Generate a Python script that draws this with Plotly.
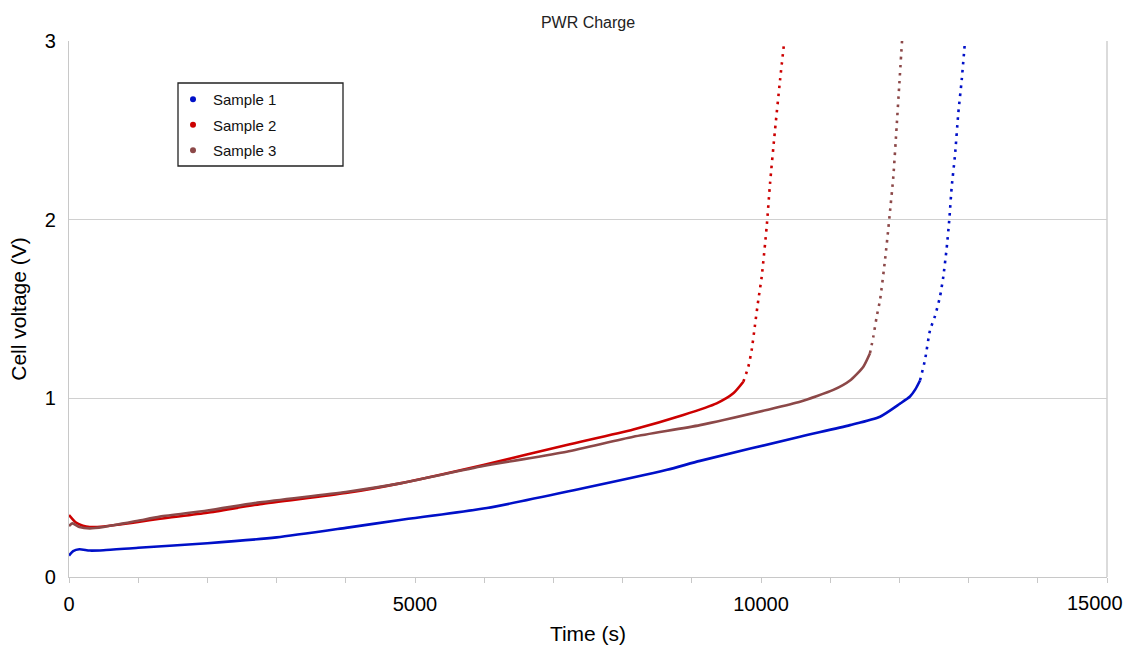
import plotly.graph_objects as go

# ---------------- data ----------------
s1_t = [0, 60, 150, 300, 500, 1000, 2000, 3000, 4000, 4783, 6040, 7312, 8642, 9118,
        10563, 11286, 11720, 12009, 12153, 12230, 12298, 12370, 12442, 12514, 12587,
        12634, 12683, 12721, 12755, 12803, 12852, 12900, 12948]
s1_v = [0.12, 0.145, 0.155, 0.148, 0.150, 0.164, 0.189, 0.222, 0.275, 0.319, 0.386, 0.487, 0.600, 0.650,
        0.785, 0.850, 0.897, 0.970, 1.010, 1.050, 1.100, 1.215, 1.380, 1.460, 1.570,
        1.680, 1.840, 2.000, 2.180, 2.360, 2.600, 2.780, 3.000]
s1_split = 20

s2_t = [0, 100, 200, 300, 500, 1000, 1315, 2000, 2760, 4000, 4783, 5987, 7192, 8155,
        8877, 9359, 9600, 9745, 9817, 9865, 9913, 9961, 10010, 10082, 10130, 10202,
        10275, 10337]
s2_v = [0.347, 0.305, 0.287, 0.280, 0.283, 0.308, 0.326, 0.360, 0.408, 0.470, 0.524, 0.627, 0.739, 0.826,
        0.907, 0.972, 1.028, 1.093, 1.177, 1.270, 1.410, 1.550, 1.680, 1.960, 2.200, 2.500,
        2.780, 3.000]
s2_split = 17

s3_t = [0, 50, 150, 300, 500, 1000, 1315, 2000, 2760, 4000, 4783, 5987, 7192, 8155,
        9118, 10082, 10564, 11045, 11286, 11479, 11575, 11623, 11672, 11720, 11792,
        11840, 11864, 11912, 11960, 11999, 12038]
s3_v = [0.285, 0.300, 0.280, 0.272, 0.280, 0.315, 0.338, 0.372, 0.418, 0.476, 0.524, 0.621, 0.701, 0.785,
        0.850, 0.935, 0.981, 1.047, 1.100, 1.177, 1.252, 1.345, 1.457, 1.550, 1.774,
        1.950, 2.045, 2.240, 2.520, 2.760, 3.000]
s3_split = 20

names = ["Sample 1", "Sample 2", "Sample 3"]
colors = ["#0010C8", "#CC0000", "#8C4848"]

x_ticks = [0, 5000, 10000, 15000]
x_tick_labels = ["0", "5000", "10000", "15000"]
y_ticks = [0, 1, 2, 3]
y_tick_labels = ["0", "1", "2", "3"]

FONT = "Arial, Liberation Sans, sans-serif"

W, H = 1128, 645
ML, MR, MT, MB = 69, 21, 41, 68
PW, PH = W - ML - MR, H - MT - MB

fig = go.Figure()
series = [(s1_t, s1_v, s1_split), (s2_t, s2_v, s2_split), (s3_t, s3_v, s3_split)]
for (t, v, k), name, col in zip(series, names, colors):
    fig.add_trace(go.Scatter(x=t[:k + 1], y=v[:k + 1], mode="lines",
                             line=dict(color=col, width=2.6, shape="spline", smoothing=0.6),
                             showlegend=False, hoverinfo="skip"))
    fig.add_trace(go.Scatter(x=t[k:], y=v[k:], mode="lines",
                             line=dict(color=col, width=2.6, dash="2.6px,5.4px",
                                       shape="spline", smoothing=0.6),
                             showlegend=False, hoverinfo="skip"))
    fig.add_trace(go.Scatter(x=[None], y=[None], mode="markers", name=name,
                             legendgroup=name, marker=dict(color=col, size=6)))

# legend box geometry (reference pixels relative to the plot area)
box_l, box_r, box_t, box_b = 178 - 69, 343 - 69, 83 - 41, 166 - 41

fig.update_layout(
    width=W, height=H,
    margin=dict(l=ML, r=MR, t=MT, b=MB, autoexpand=False),
    paper_bgcolor="white", plot_bgcolor="white",
    font=dict(family=FONT, color="#000000"),
    title=dict(text="PWR Charge", x=(ML + PW / 2) / W, xanchor="center",
               y=1 - 22 / H, yanchor="middle",
               font=dict(size=16, color="#222222", family=FONT)),
    legend=dict(x=(box_l - 5) / PW, y=1 - box_t / PH, xanchor="left", yanchor="top",
                bgcolor="rgba(0,0,0,0)", borderwidth=0,
                font=dict(size=15, color="#111111", family=FONT),
                tracegroupgap=3, itemwidth=30),
    showlegend=True,
)
fig.add_shape(type="rect", xref="paper", yref="paper",
              x0=box_l / PW, x1=box_r / PW, y0=1 - box_b / PH, y1=1 - box_t / PH,
              line=dict(color="#222222", width=1.3), fillcolor="white", layer="below")

# last x tick label is right-aligned inside the page (as in the reference)
fig.update_xaxes(
    range=[0, 15000], tickvals=x_ticks, ticktext=x_tick_labels[:-1] + [""],
    showgrid=False, zeroline=False,
    showline=True, linecolor="#C8C8C8", linewidth=1.3,
    ticks="outside", ticklen=5, tickcolor="#C8C8C8", tickwidth=1,
    minor=dict(dtick=1000, ticks="outside", ticklen=5, tickcolor="#C8C8C8", showgrid=False),
    tickfont=dict(size=20, color="#000000"), ticklabelstandoff=4,
    title=dict(text="Time (s)", font=dict(size=21, color="#000000"), standoff=20),
)
fig.add_annotation(x=x_ticks[-1], xref="x", y=0, yref="paper",
                   text=x_tick_labels[-1], showarrow=False,
                   xanchor="right", yanchor="middle", xshift=18, yshift=-26,
                   font=dict(size=20, color="#000000", family=FONT))
fig.update_yaxes(
    range=[0, 3], tickvals=y_ticks, ticktext=y_tick_labels,
    showgrid=True, gridcolor="#D0D0D0", gridwidth=1.3, zeroline=False,
    showline=True, linecolor="#C8C8C8", linewidth=1.3,
    ticks="", tickfont=dict(size=20, color="#000000"), ticklabelstandoff=8,
    title=dict(text="Cell voltage (V)", font=dict(size=21, color="#000000"), standoff=12),
)
fig.add_shape(type="line", xref="paper", yref="paper", x0=1, x1=1, y0=0, y1=1,
              line=dict(color="#C8C8C8", width=1.3), layer="below")

# remove the default 8px page margin so the figure fills the window exactly
fig.write_html("out.html", config={"displayModeBar": False},
               post_script="document.body.style.margin='0';document.body.style.overflow='hidden';")
